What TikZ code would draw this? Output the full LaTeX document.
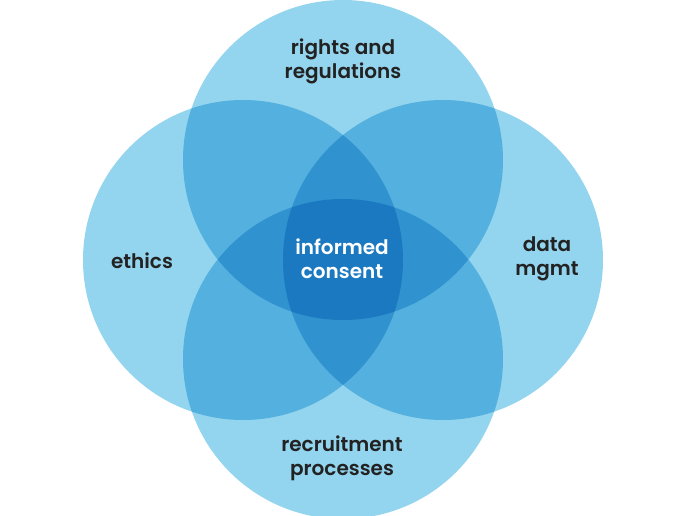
\documentclass[tikz,border=0pt]{standalone}
\usepackage{fontspec}
\setmainfont{Poppins}[BoldFont={Poppins SemiBold}]
\definecolor{lightsky}{RGB}{147,212,238}
\definecolor{inktext}{RGB}{34,34,34}
\tikzset{
  area/.style={fill=lightsky, draw=none, blend mode=multiply},
  label/.style={align=center, text=inktext, font=\fontsize{15}{18}\selectfont\bfseries},
}
\begin{document}
\begin{tikzpicture}[line join=round, line cap=round, x=0.75pt, y=-0.75pt]
\useasboundingbox (0,0) rectangle (683,516);
\foreach \cx/\cy in {343/160, 243/260, 443/260, 343/359}{
\fill[area] (\cx,\cy) circle[radius=160];
}
\node[label] (rights) at (343,61) {rights and\\regulations};
\node[label] (ethics) at (142,261) {ethics};
\node[label] (data) at (547,259) {data\\mgmt};
\node[label] (recruit) at (342,458) {recruitment\\processes};
\node[label, text=white] (consent) at (342,259) {informed\\consent};
\end{tikzpicture}
\end{document}
